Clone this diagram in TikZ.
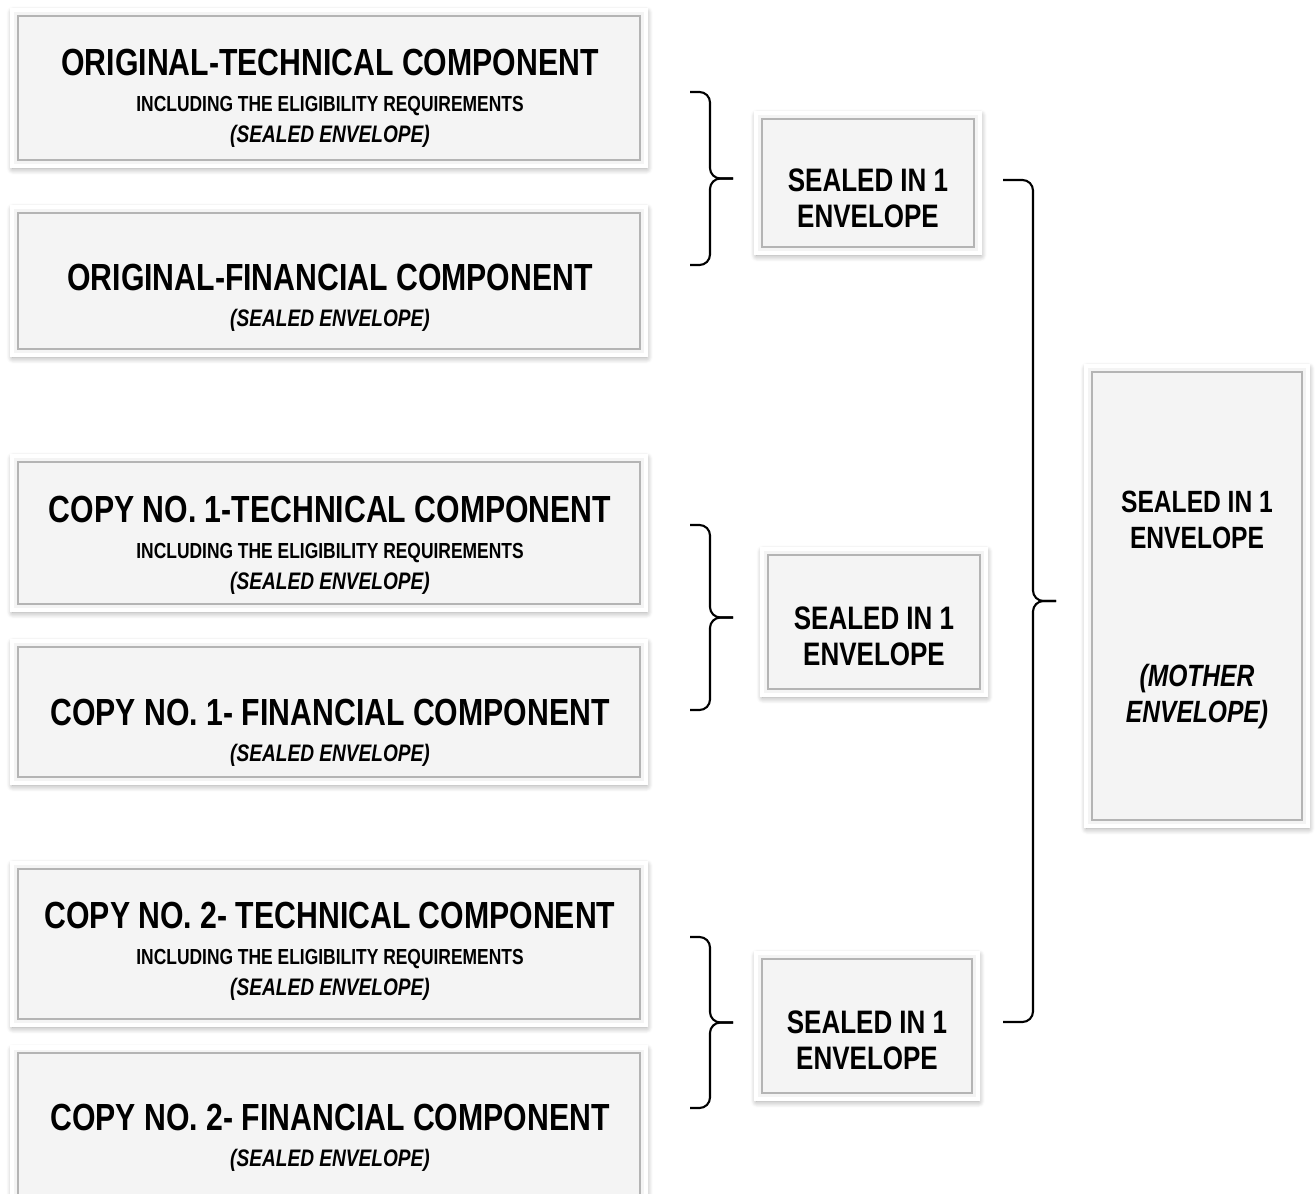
\documentclass[tikz,border=0pt]{standalone}
\usepackage{fontspec}
\setmainfont{Liberation Sans}[FakeStretch=0.8]
\usetikzlibrary{shadows.blur,calc}
\definecolor{panel}{HTML}{F4F4F4}
\definecolor{bevelgray}{HTML}{B4B4B4}
\newcommand{\headfont}{\fontsize{21.5}{25}\selectfont\bfseries}
\newcommand{\notefont}{\fontsize{12.4}{16}\selectfont\bfseries}
\newcommand{\envfont}{\fontsize{13.6}{16}\selectfont\bfseries\itshape}
\newcommand{\sealfont}{\fontsize{18.5}{20.5}\selectfont\bfseries}
\begin{document}
\begin{tikzpicture}[x=0.02cm,y=0.02cm,
  envelope/.style={rectangle,fill=panel,draw=white,line width=2.5pt,
    blur shadow={shadow xshift=0.4pt,shadow yshift=-1.4pt,shadow blur steps=8,
      shadow blur radius=3.5pt,shadow opacity=40},
    path picture={\draw[bevelgray,line width=1.2pt]
      ([shift={(3.2pt,-3.2pt)}]path picture bounding box.north west) rectangle
      ([shift={(-3.2pt,3.2pt)}]path picture bounding box.south east);}},
  label text/.style={align=center,inner sep=0pt},
  curly/.style={line width=1.2pt,rounded corners=6pt}]

  \useasboundingbox (0,0) rectangle (1316,-1194);

  % component envelopes
  \node[envelope,minimum width=12.68cm,minimum height=3.12cm] (otech) at (329,-88) {};
  \node[envelope,minimum width=12.68cm,minimum height=2.96cm] (ofin) at (329,-281) {};
  \node[envelope,minimum width=12.68cm,minimum height=3.08cm] (ctechA) at (329,-533) {};
  \node[envelope,minimum width=12.68cm,minimum height=2.84cm] (cfinA) at (329,-712) {};
  \node[envelope,minimum width=12.68cm,minimum height=3.24cm] (ctechB) at (329,-944) {};
  \node[envelope,minimum width=12.68cm,minimum height=3.3cm] (cfinB) at (329,-1130) {};

  \node[label text] (otechtxt) at (330,-98) {{\headfont ORIGINAL-TECHNICAL COMPONENT}\\[9pt]
    {\notefont INCLUDING THE ELIGIBILITY REQUIREMENTS}\\[4pt] {\envfont (SEALED ENVELOPE)}};
  \node[label text] (ofintxt) at (330,-298) {{\headfont ORIGINAL-FINANCIAL COMPONENT}\\[8.5pt]
    {\envfont (SEALED ENVELOPE)}};
  \node[label text] (ctechAtxt) at (330,-545) {{\headfont COPY NO. 1-TECHNICAL COMPONENT}\\[9pt]
    {\notefont INCLUDING THE ELIGIBILITY REQUIREMENTS}\\[4pt] {\envfont (SEALED ENVELOPE)}};
  \node[label text] (cfinAtxt) at (330,-733) {{\headfont COPY NO. 1- FINANCIAL COMPONENT}\\[8.5pt]
    {\envfont (SEALED ENVELOPE)}};
  \node[label text] (ctechBtxt) at (330,-951) {{\headfont COPY NO. 2- TECHNICAL COMPONENT}\\[9pt]
    {\notefont INCLUDING THE ELIGIBILITY REQUIREMENTS}\\[4pt] {\envfont (SEALED ENVELOPE)}};
  \node[label text] (cfinBtxt) at (330,-1138) {{\headfont COPY NO. 2- FINANCIAL COMPONENT}\\[8.5pt]
    {\envfont (SEALED ENVELOPE)}};

  % sealed envelopes
  \node[envelope,minimum width=4.48cm,minimum height=2.8cm] (sealA) at (868,-183) {};
  \node[envelope,minimum width=4.48cm,minimum height=2.92cm] (sealB) at (874,-622) {};
  \node[envelope,minimum width=4.44cm,minimum height=2.92cm] (sealC) at (867,-1026) {};
  \node[label text,font=\sealfont] (sealAtxt) at (868,-198) {SEALED IN 1\\ENVELOPE};
  \node[label text,font=\sealfont] (sealBtxt) at (874,-636) {SEALED IN 1\\ENVELOPE};
  \node[label text,font=\sealfont] (sealCtxt) at (867,-1040) {SEALED IN 1\\ENVELOPE};

  % mother envelope
  \node[envelope,minimum width=4.44cm,minimum height=9.2cm] (mother) at (1197,-596) {};
  \node[label text,font={\fontsize{17.5}{20.5}\selectfont\bfseries}] (mothertxt) at (1197,-610)
    {SEALED IN 1\\ENVELOPE\\[2.05cm] {\itshape (MOTHER}\\ {\itshape ENVELOPE)}};

  % braces
  \coordinate (braceAtop) at (690,-92);
  \coordinate (braceAbot) at (690,-265);
  \coordinate (braceBtop) at (690,-525);
  \coordinate (braceBbot) at (690,-710);
  \coordinate (braceCtop) at (690,-937);
  \coordinate (braceCbot) at (690,-1108);
  \coordinate (bigtop) at (1003,-180);
  \coordinate (bigbot) at (1003,-1022);
  \foreach \t/\b in {braceAtop/braceAbot,braceBtop/braceBbot,braceCtop/braceCbot}{
    \draw[curly] (\t) -- ++(20,0) -- ($(\t)!0.5!(\b)+(20,0)$) -- ++(23,0);
    \draw[curly] (\b) -- ++(20,0) -- ($(\t)!0.5!(\b)+(20,0)$) -- ++(23,0);
  }
  \draw[curly] (bigtop) -- ++(30,0) -- ($(bigtop)!0.5!(bigbot)+(30,0)$) -- ++(23,0);
  \draw[curly] (bigbot) -- ++(30,0) -- ($(bigtop)!0.5!(bigbot)+(30,0)$) -- ++(23,0);
\end{tikzpicture}
\end{document}
